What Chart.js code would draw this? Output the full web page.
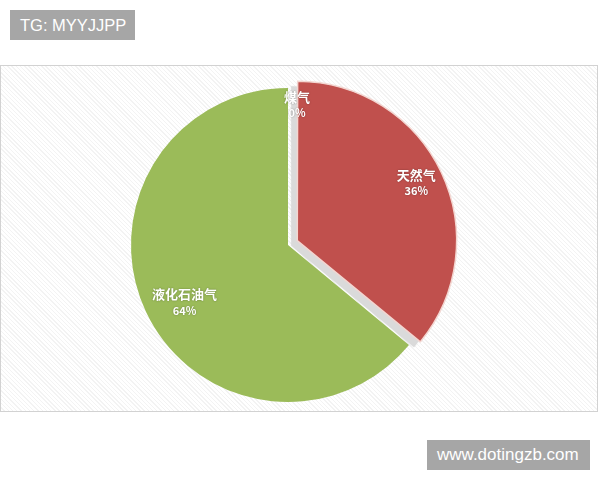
<!DOCTYPE html>
<html>
<head>
<meta charset="utf-8">
<script src="https://cdn.jsdelivr.net/npm/chart.js@4.4.1/dist/chart.umd.min.js"></script>
<style>
  html, body { margin: 0; padding: 0; background: #ffffff; }
  #wrap { position: relative; width: 600px; height: 480px; overflow: hidden; }
  #frame {
    position: absolute; left: 0; top: 65px; width: 596px; height: 345px;
    border: 1px solid #d2d2d2;
    background: repeating-linear-gradient(45deg, #ffffff 0px, #ffffff 2px, #f3f3f3 2px, #f3f3f3 3px);
  }
  canvas { position: absolute; left: 0; top: 0; }
  .tag {
    position: absolute; background: #a6a6a6; color: #ffffff;
    font-family: "Liberation Sans", "DejaVu Sans", sans-serif;
    line-height: 30px; height: 30px; box-sizing: border-box; padding: 0 10px; white-space: nowrap;
  }
  #tg { left: 10px; top: 10px; width: 125px; font-size: 16.5px; }
  #site { left: 427px; top: 440px; width: 163px; font-size: 17px; }
</style>
</head>
<body>
<div id="wrap">
  <div id="frame"></div>
  <canvas id="c" width="600" height="480"></canvas>
  <div class="tag" id="tg">TG: MYYJJPP</div>
  <div class="tag" id="site">www.dotingzb.com</div>
</div>
<script>
const categories = ['煤气', '天然气', '液化石油气'];
const values = [0, 36, 64];
const sliceColors = ['#4f81bd', '#c0504d', '#9bbb59'];

const total = values.reduce((a, b) => a + b, 0);
const percentLabels = values.map(v => Math.round(v / total * 100) + '%');

// same geometry Chart.js v4 ArcElement applies for `offset`
function arcGeom(arc) {
  const p = arc.getProps(['x', 'y', 'startAngle', 'endAngle', 'outerRadius']);
  const off = (arc.options.offset || 0) / 4;
  const circ = p.endAngle - p.startAngle;
  const fix = 1 - Math.sin(Math.min(Math.PI, circ || 0));
  const mid = (p.startAngle + p.endAngle) / 2;
  return {
    cx: p.x + Math.cos(mid) * off,
    cy: p.y + Math.sin(mid) * off,
    r: p.outerRadius + off * fix,
    start: p.startAngle, end: p.endAngle, mid: mid
  };
}

const shadowPlugin = {
  id: 'sliceShadow',
  beforeDatasetsDraw(chart) {
    const meta = chart.getDatasetMeta(0);
    const ctx = chart.ctx;
    meta.data.forEach((arc) => {
      if (!arc.options.offset) return;
      const g = arcGeom(arc);
      const cx = g.cx - 6;
      const cy = g.cy + 5;
      ctx.save();
      ctx.fillStyle = '#dadada';
      ctx.shadowColor = 'rgba(0,0,0,0.10)';
      ctx.shadowBlur = 2;
      ctx.beginPath();
      ctx.moveTo(cx, cy);
      ctx.arc(cx, cy, g.r, g.start, g.end);
      ctx.closePath();
      ctx.fill();
      ctx.restore();
    });
  }
};

const labelPlugin = {
  id: 'sliceLabels',
  afterDatasetsDraw(chart, args, opts) {
    const meta = chart.getDatasetMeta(0);
    const ctx = chart.ctx;
    meta.data.forEach((arc, i) => {
      const g = arcGeom(arc);
      const f = opts.fractions[i];
      const n = opts.nudges[i];
      const cx = g.cx + Math.cos(g.mid) * g.r * f + n[0];
      const cy = g.cy + Math.sin(g.mid) * g.r * f + n[1];
      ctx.save();
      ctx.fillStyle = '#ffffff';
      ctx.shadowColor = 'rgba(0,0,0,0.35)';
      ctx.shadowBlur = 2;
      ctx.textAlign = 'center';
      ctx.textBaseline = 'middle';
      ctx.font = 'bold 13px "Noto Sans CJK SC", sans-serif';
      ctx.fillText(categories[i], cx, cy - 8);
      ctx.font = 'bold 11px "Noto Sans CJK SC", sans-serif';
      ctx.fillText(percentLabels[i], cx, cy + 8);
      ctx.restore();
    });
  }
};

new Chart(document.getElementById('c'), {
  type: 'pie',
  data: {
    labels: categories,
    datasets: [{
      data: values,
      backgroundColor: sliceColors,
      borderColor: ['rgba(0,0,0,0)', '#f3d6d1', 'rgba(0,0,0,0)'],
      borderWidth: [0, 1.5, 0],
      offset: [0, 41, 0]
    }]
  },
  options: {
    responsive: false,
    animation: false,
    radius: 157,
    layout: { padding: { left: 0, right: 24, top: 10, bottom: 0 } },
    plugins: {
      legend: { display: false },
      tooltip: { enabled: false },
      sliceLabels: {
        fractions: [0.89, 0.825, 0.77],
        nudges: [[9, 0], [0, -2], [6, 6]]
      }
    }
  },
  plugins: [shadowPlugin, labelPlugin]
});
</script>
</body>
</html>
